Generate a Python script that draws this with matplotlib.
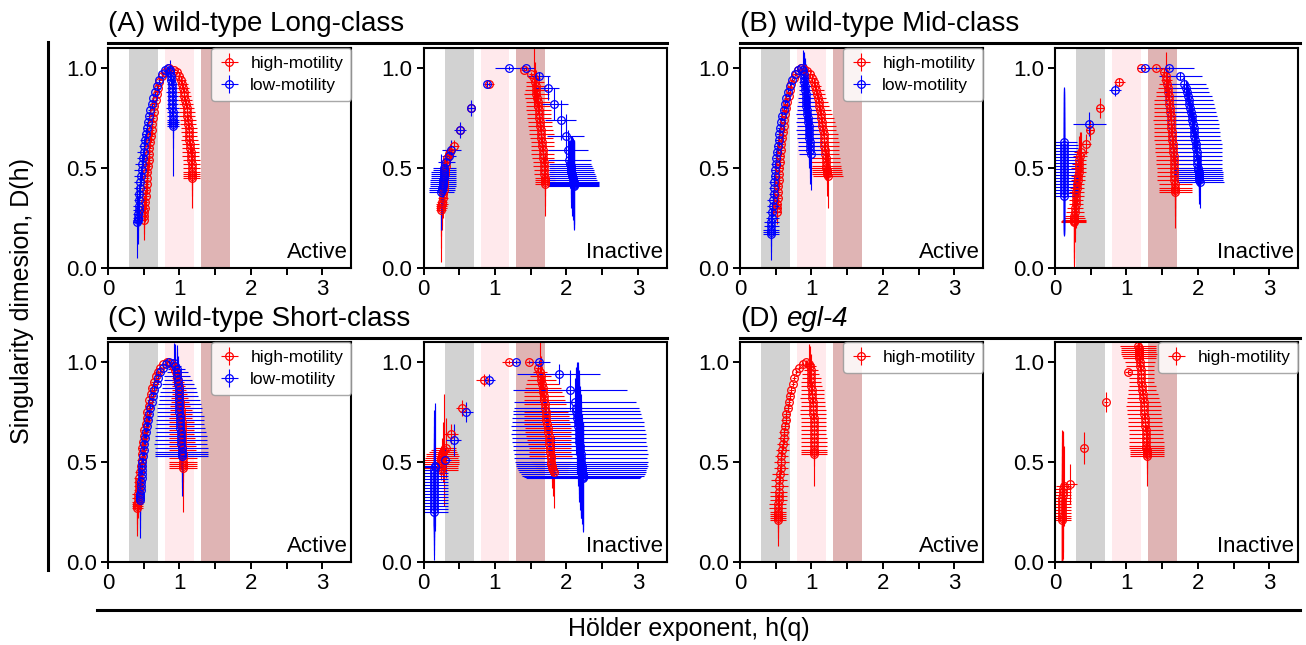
import numpy as np
import matplotlib.pyplot as plt
from matplotlib.lines import Line2D
from matplotlib.ticker import FixedLocator

plt.rcParams['font.family'] = ['Liberation Sans', 'DejaVu Sans']

# each row: h, D(h), error in h, error in D

# (A) wild-type Long-class, active
a_act_hi = [
    (0.50, 0.24, 0.03, 0.10), (0.51, 0.26, 0.03, 0.09), (0.51, 0.28, 0.03, 0.08), (0.52, 0.30, 0.04, 0.07),
    (0.52, 0.33, 0.04, 0.06), (0.53, 0.36, 0.04, 0.06), (0.53, 0.39, 0.04, 0.05), (0.54, 0.42, 0.04, 0.05),
    (0.54, 0.45, 0.04, 0.05), (0.55, 0.48, 0.04, 0.04), (0.56, 0.51, 0.04, 0.04), (0.57, 0.54, 0.04, 0.04),
    (0.57, 0.57, 0.04, 0.04), (0.58, 0.60, 0.04, 0.03), (0.59, 0.63, 0.04, 0.03), (0.60, 0.66, 0.04, 0.03),
    (0.61, 0.69, 0.03, 0.03), (0.62, 0.72, 0.03, 0.03), (0.63, 0.75, 0.03, 0.02), (0.64, 0.78, 0.03, 0.02),
    (0.65, 0.81, 0.03, 0.02), (0.67, 0.84, 0.03, 0.02), (0.68, 0.87, 0.03, 0.02), (0.70, 0.90, 0.03, 0.02),
    (0.72, 0.93, 0.02, 0.01), (0.76, 0.96, 0.02, 0.01), (0.80, 0.98, 0.02, 0.01), (0.86, 1.00, 0.02, 0.01),
    (0.93, 0.99, 0.04, 0.01), (0.96, 0.98, 0.05, 0.01), (0.99, 0.96, 0.06, 0.02), (1.02, 0.94, 0.07, 0.02),
    (1.04, 0.92, 0.08, 0.02), (1.05, 0.90, 0.08, 0.02), (1.06, 0.88, 0.09, 0.02), (1.07, 0.86, 0.09, 0.02),
    (1.08, 0.84, 0.10, 0.02), (1.09, 0.82, 0.10, 0.02), (1.10, 0.80, 0.10, 0.02), (1.11, 0.78, 0.11, 0.02),
    (1.11, 0.76, 0.11, 0.03), (1.12, 0.74, 0.11, 0.03), (1.12, 0.72, 0.11, 0.03), (1.13, 0.70, 0.11, 0.03),
    (1.13, 0.68, 0.11, 0.03), (1.14, 0.66, 0.11, 0.03), (1.14, 0.64, 0.12, 0.03), (1.15, 0.62, 0.12, 0.03),
    (1.15, 0.60, 0.12, 0.03), (1.16, 0.58, 0.12, 0.04), (1.16, 0.56, 0.12, 0.04), (1.165, 0.54, 0.12, 0.04),
    (1.17, 0.52, 0.12, 0.05), (1.17, 0.50, 0.12, 0.05), (1.17, 0.48, 0.12, 0.06), (1.17, 0.47, 0.12, 0.08),
    (1.17, 0.46, 0.12, 0.10), (1.17, 0.45, 0.12, 0.15),
]
a_act_lo = [
    (0.41, 0.23, 0.06, 0.18), (0.42, 0.24, 0.07, 0.12), (0.42, 0.25, 0.07, 0.10), (0.42, 0.27, 0.07, 0.08),
    (0.43, 0.29, 0.08, 0.07), (0.43, 0.31, 0.08, 0.06), (0.44, 0.34, 0.08, 0.06), (0.44, 0.37, 0.08, 0.05),
    (0.45, 0.40, 0.09, 0.05), (0.45, 0.43, 0.09, 0.05), (0.46, 0.46, 0.10, 0.05), (0.47, 0.49, 0.10, 0.05),
    (0.48, 0.52, 0.10, 0.05), (0.49, 0.55, 0.09, 0.04), (0.50, 0.58, 0.09, 0.04), (0.51, 0.61, 0.08, 0.04),
    (0.52, 0.64, 0.07, 0.03), (0.53, 0.67, 0.06, 0.03), (0.54, 0.70, 0.05, 0.03), (0.56, 0.73, 0.04, 0.02),
    (0.57, 0.76, 0.04, 0.02), (0.59, 0.79, 0.03, 0.02), (0.61, 0.82, 0.03, 0.02), (0.63, 0.85, 0.02, 0.02),
    (0.66, 0.88, 0.02, 0.02), (0.69, 0.91, 0.02, 0.01), (0.72, 0.94, 0.02, 0.01), (0.76, 0.97, 0.02, 0.01),
    (0.80, 0.99, 0.02, 0.01), (0.84, 1.00, 0.02, 0.01),
    (0.87, 0.99, 0.04, 0.05), (0.87, 0.98, 0.05, 0.04), (0.88, 0.96, 0.06, 0.03), (0.88, 0.94, 0.06, 0.03),
    (0.89, 0.92, 0.07, 0.03), (0.89, 0.90, 0.07, 0.03), (0.89, 0.88, 0.08, 0.03), (0.90, 0.86, 0.08, 0.03),
    (0.90, 0.84, 0.08, 0.04), (0.90, 0.82, 0.08, 0.04), (0.90, 0.80, 0.09, 0.04), (0.91, 0.78, 0.09, 0.04),
    (0.91, 0.76, 0.09, 0.05), (0.91, 0.74, 0.09, 0.06), (0.91, 0.73, 0.09, 0.08), (0.91, 0.72, 0.09, 0.12),
    (0.91, 0.71, 0.09, 0.25),
]

# (A) wild-type Long-class, inactive
a_ina_hi = [
    (0.24, 0.29, 0.07, 0.26), (0.25, 0.30, 0.08, 0.20), (0.25, 0.31, 0.08, 0.15), (0.26, 0.32, 0.08, 0.13),
    (0.26, 0.33, 0.07, 0.12), (0.27, 0.35, 0.07, 0.10), (0.27, 0.37, 0.06, 0.09), (0.28, 0.39, 0.06, 0.08),
    (0.28, 0.41, 0.05, 0.08), (0.29, 0.43, 0.05, 0.07), (0.29, 0.45, 0.05, 0.07), (0.30, 0.47, 0.04, 0.06),
    (0.30, 0.49, 0.04, 0.06), (0.31, 0.51, 0.04, 0.05), (0.32, 0.53, 0.04, 0.05), (0.33, 0.55, 0.04, 0.04),
    (0.35, 0.57, 0.05, 0.04), (0.37, 0.58, 0.05, 0.04), (0.43, 0.61, 0.06, 0.03), (0.51, 0.69, 0.06, 0.03),
    (0.665, 0.80, 0.05, 0.02), (0.91, 0.92, 0.07, 0.01), (1.41, 0.99, 0.04, 0.01), (1.51, 0.97, 0.04, 0.01),
    (1.55, 0.95, 0.08, 0.15), (1.56, 0.93, 0.12, 0.10), (1.57, 0.91, 0.14, 0.08), (1.58, 0.89, 0.16, 0.06),
    (1.58, 0.87, 0.17, 0.05), (1.59, 0.85, 0.17, 0.05), (1.60, 0.83, 0.17, 0.04), (1.60, 0.81, 0.17, 0.04),
    (1.61, 0.79, 0.17, 0.04), (1.62, 0.77, 0.17, 0.03), (1.62, 0.75, 0.17, 0.03), (1.63, 0.73, 0.17, 0.03),
    (1.63, 0.71, 0.17, 0.03), (1.64, 0.69, 0.17, 0.03), (1.65, 0.67, 0.17, 0.03), (1.65, 0.65, 0.16, 0.03),
    (1.66, 0.63, 0.16, 0.03), (1.66, 0.61, 0.16, 0.03), (1.67, 0.59, 0.16, 0.03), (1.67, 0.57, 0.16, 0.03),
    (1.67, 0.55, 0.15, 0.03), (1.68, 0.53, 0.15, 0.03), (1.68, 0.51, 0.15, 0.04), (1.69, 0.49, 0.15, 0.04),
    (1.69, 0.47, 0.14, 0.05), (1.70, 0.45, 0.14, 0.06), (1.70, 0.44, 0.14, 0.08), (1.70, 0.43, 0.14, 0.12),
    (1.70, 0.42, 0.14, 0.16),
]
a_ina_lo = [
    (0.25, 0.38, 0.18, 0.19), (0.26, 0.39, 0.18, 0.12), (0.26, 0.40, 0.18, 0.10), (0.27, 0.41, 0.18, 0.09),
    (0.27, 0.42, 0.18, 0.08), (0.27, 0.43, 0.18, 0.07), (0.27, 0.44, 0.18, 0.06), (0.28, 0.45, 0.18, 0.05),
    (0.28, 0.46, 0.18, 0.05), (0.28, 0.47, 0.17, 0.05), (0.28, 0.48, 0.17, 0.05), (0.29, 0.49, 0.16, 0.04),
    (0.29, 0.50, 0.16, 0.04), (0.32, 0.53, 0.12, 0.03), (0.36, 0.56, 0.10, 0.04), (0.39, 0.59, 0.13, 0.05),
    (0.51, 0.69, 0.08, 0.04), (0.665, 0.80, 0.06, 0.04), (0.89, 0.92, 0.04, 0.02), (1.19, 1.00, 0.19, 0.01),
    (1.44, 1.00, 0.10, 0.01), (1.61, 0.96, 0.16, 0.02), (1.74, 0.90, 0.16, 0.06), (1.83, 0.82, 0.19, 0.08),
    (1.92, 0.74, 0.22, 0.10), (1.99, 0.66, 0.26, 0.11), (2.02, 0.59, 0.28, 0.10), (2.04, 0.54, 0.30, 0.10),
    (2.05, 0.52, 0.30, 0.12), (2.06, 0.51, 0.30, 0.14), (2.06, 0.50, 0.31, 0.15), (2.07, 0.49, 0.31, 0.16),
    (2.07, 0.48, 0.32, 0.18), (2.08, 0.47, 0.32, 0.19), (2.08, 0.46, 0.33, 0.20), (2.09, 0.45, 0.33, 0.20),
    (2.09, 0.44, 0.34, 0.20), (2.10, 0.43, 0.35, 0.21), (2.10, 0.425, 0.35, 0.21), (2.10, 0.42, 0.36, 0.22),
    (2.10, 0.415, 0.36, 0.22), (2.10, 0.41, 0.36, 0.22),
]

# (B) wild-type Mid-class, active
b_act_hi = [
    (0.52, 0.28, 0.05, 0.06), (0.52, 0.30, 0.05, 0.05), (0.52, 0.32, 0.05, 0.05), (0.53, 0.35, 0.05, 0.05),
    (0.53, 0.38, 0.05, 0.04), (0.53, 0.41, 0.05, 0.04), (0.54, 0.44, 0.05, 0.04), (0.54, 0.47, 0.05, 0.04),
    (0.55, 0.50, 0.05, 0.04), (0.56, 0.53, 0.05, 0.03), (0.56, 0.56, 0.05, 0.03), (0.57, 0.59, 0.04, 0.03),
    (0.58, 0.62, 0.04, 0.03), (0.59, 0.65, 0.04, 0.03), (0.60, 0.68, 0.04, 0.03), (0.61, 0.71, 0.04, 0.03),
    (0.62, 0.74, 0.03, 0.02), (0.63, 0.77, 0.03, 0.02), (0.65, 0.80, 0.03, 0.02), (0.66, 0.83, 0.03, 0.02),
    (0.68, 0.86, 0.03, 0.02), (0.70, 0.89, 0.03, 0.02), (0.72, 0.92, 0.02, 0.02), (0.75, 0.95, 0.02, 0.01),
    (0.78, 0.97, 0.02, 0.01), (0.81, 0.99, 0.02, 0.01), (0.85, 1.00, 0.02, 0.01),
    (0.90, 0.995, 0.03, 0.01), (0.94, 0.985, 0.05, 0.01), (0.98, 0.97, 0.06, 0.02), (1.01, 0.95, 0.07, 0.02),
    (1.03, 0.93, 0.08, 0.02), (1.05, 0.91, 0.09, 0.02), (1.07, 0.89, 0.10, 0.02), (1.08, 0.87, 0.11, 0.02),
    (1.09, 0.85, 0.12, 0.03), (1.10, 0.83, 0.13, 0.03), (1.11, 0.81, 0.14, 0.03), (1.12, 0.79, 0.15, 0.03),
    (1.13, 0.77, 0.16, 0.03), (1.14, 0.75, 0.17, 0.03), (1.15, 0.73, 0.18, 0.03), (1.15, 0.71, 0.19, 0.03),
    (1.16, 0.69, 0.19, 0.03), (1.17, 0.67, 0.20, 0.03), (1.17, 0.65, 0.20, 0.03), (1.18, 0.63, 0.20, 0.03),
    (1.18, 0.61, 0.20, 0.03), (1.19, 0.59, 0.20, 0.04), (1.19, 0.57, 0.20, 0.04), (1.20, 0.55, 0.20, 0.04),
    (1.20, 0.53, 0.20, 0.04), (1.21, 0.51, 0.20, 0.05), (1.21, 0.50, 0.21, 0.06), (1.22, 0.49, 0.21, 0.07),
    (1.22, 0.48, 0.21, 0.09), (1.22, 0.47, 0.21, 0.11), (1.23, 0.46, 0.21, 0.16),
]
b_act_lo = [
    (0.43, 0.17, 0.11, 0.13), (0.43, 0.18, 0.11, 0.10), (0.43, 0.19, 0.11, 0.08), (0.44, 0.21, 0.10, 0.07),
    (0.44, 0.23, 0.10, 0.06), (0.45, 0.25, 0.09, 0.05), (0.45, 0.28, 0.09, 0.05), (0.46, 0.31, 0.08, 0.05),
    (0.46, 0.34, 0.08, 0.05), (0.47, 0.37, 0.07, 0.05), (0.47, 0.40, 0.07, 0.04), (0.48, 0.43, 0.07, 0.04),
    (0.49, 0.46, 0.06, 0.04), (0.49, 0.49, 0.06, 0.04), (0.50, 0.52, 0.06, 0.04), (0.51, 0.55, 0.05, 0.04),
    (0.52, 0.58, 0.05, 0.03), (0.53, 0.61, 0.05, 0.03), (0.54, 0.64, 0.05, 0.03), (0.55, 0.67, 0.04, 0.03),
    (0.56, 0.70, 0.04, 0.03), (0.58, 0.73, 0.04, 0.03), (0.59, 0.76, 0.04, 0.02), (0.61, 0.79, 0.03, 0.02),
    (0.63, 0.82, 0.03, 0.02), (0.65, 0.85, 0.03, 0.02), (0.67, 0.88, 0.02, 0.02), (0.70, 0.91, 0.02, 0.02),
    (0.73, 0.94, 0.02, 0.01), (0.77, 0.97, 0.02, 0.01), (0.81, 0.99, 0.02, 0.01), (0.86, 1.00, 0.02, 0.01),
    (0.88, 0.99, 0.04, 0.10), (0.89, 0.97, 0.05, 0.11), (0.90, 0.95, 0.06, 0.12), (0.90, 0.93, 0.07, 0.13),
    (0.91, 0.91, 0.08, 0.14), (0.91, 0.89, 0.09, 0.15), (0.92, 0.87, 0.10, 0.15), (0.92, 0.85, 0.11, 0.15),
    (0.93, 0.83, 0.12, 0.15), (0.93, 0.81, 0.13, 0.15), (0.94, 0.79, 0.14, 0.15), (0.94, 0.77, 0.15, 0.15),
    (0.95, 0.75, 0.15, 0.15), (0.95, 0.73, 0.16, 0.15), (0.96, 0.71, 0.16, 0.15), (0.96, 0.69, 0.17, 0.15),
    (0.97, 0.67, 0.17, 0.15), (0.97, 0.65, 0.17, 0.15), (0.98, 0.63, 0.17, 0.15), (0.98, 0.61, 0.17, 0.16),
    (0.98, 0.59, 0.17, 0.17), (0.99, 0.57, 0.17, 0.18),
]

# (B) wild-type Mid-class, inactive
b_ina_hi = [
    (0.26, 0.23, 0.18, 0.23), (0.26, 0.235, 0.18, 0.22), (0.27, 0.24, 0.17, 0.21), (0.27, 0.25, 0.15, 0.20),
    (0.27, 0.26, 0.13, 0.18), (0.28, 0.28, 0.12, 0.15), (0.28, 0.30, 0.11, 0.13), (0.29, 0.32, 0.10, 0.12),
    (0.29, 0.34, 0.10, 0.11), (0.30, 0.36, 0.10, 0.10), (0.30, 0.38, 0.10, 0.09), (0.31, 0.40, 0.10, 0.09),
    (0.31, 0.42, 0.10, 0.08), (0.32, 0.44, 0.10, 0.08), (0.32, 0.46, 0.10, 0.09), (0.33, 0.48, 0.10, 0.10),
    (0.33, 0.50, 0.10, 0.10), (0.34, 0.52, 0.10, 0.11), (0.34, 0.54, 0.10, 0.12), (0.35, 0.56, 0.10, 0.12),
    (0.36, 0.58, 0.10, 0.10), (0.44, 0.62, 0.06, 0.05), (0.49, 0.69, 0.06, 0.05), (0.63, 0.80, 0.06, 0.05),
    (0.90, 0.93, 0.08, 0.02), (1.20, 1.00, 0.05, 0.01), (1.41, 1.00, 0.03, 0.01), (1.52, 0.98, 0.04, 0.02),
    (1.56, 0.96, 0.06, 0.12), (1.56, 0.94, 0.08, 0.08), (1.57, 0.92, 0.12, 0.06), (1.58, 0.90, 0.14, 0.04),
    (1.58, 0.88, 0.16, 0.04), (1.59, 0.86, 0.18, 0.04), (1.59, 0.84, 0.20, 0.04), (1.60, 0.82, 0.21, 0.04),
    (1.61, 0.80, 0.22, 0.04), (1.61, 0.78, 0.23, 0.04), (1.62, 0.76, 0.24, 0.04), (1.62, 0.74, 0.25, 0.04),
    (1.63, 0.72, 0.25, 0.04), (1.63, 0.70, 0.25, 0.04), (1.64, 0.68, 0.25, 0.04), (1.64, 0.66, 0.25, 0.04),
    (1.64, 0.64, 0.25, 0.04), (1.65, 0.62, 0.25, 0.04), (1.65, 0.60, 0.25, 0.04), (1.65, 0.58, 0.25, 0.05),
    (1.66, 0.56, 0.25, 0.05), (1.66, 0.54, 0.25, 0.05), (1.66, 0.52, 0.24, 0.05), (1.67, 0.50, 0.24, 0.05),
    (1.67, 0.48, 0.24, 0.06), (1.67, 0.46, 0.24, 0.06), (1.67, 0.44, 0.24, 0.07), (1.68, 0.42, 0.23, 0.08),
    (1.68, 0.40, 0.23, 0.10), (1.68, 0.39, 0.23, 0.13), (1.68, 0.38, 0.23, 0.18),
]
b_ina_lo = [
    (0.12, 0.36, 0.20, 0.20), (0.12, 0.375, 0.20, 0.21), (0.12, 0.39, 0.20, 0.22), (0.12, 0.405, 0.20, 0.24),
    (0.12, 0.42, 0.20, 0.25), (0.12, 0.435, 0.20, 0.27), (0.12, 0.45, 0.20, 0.28), (0.12, 0.465, 0.20, 0.29),
    (0.12, 0.48, 0.20, 0.30), (0.12, 0.495, 0.20, 0.31), (0.12, 0.51, 0.20, 0.32), (0.12, 0.525, 0.20, 0.33),
    (0.12, 0.54, 0.20, 0.33), (0.12, 0.555, 0.20, 0.33), (0.12, 0.57, 0.20, 0.33), (0.12, 0.585, 0.20, 0.32),
    (0.12, 0.60, 0.20, 0.30), (0.13, 0.615, 0.19, 0.28), (0.13, 0.63, 0.18, 0.25),
    (0.48, 0.72, 0.23, 0.06), (0.84, 0.89, 0.08, 0.03), (1.26, 1.00, 0.10, 0.01), (1.59, 1.00, 0.35, 0.01),
    (1.75, 0.96, 0.30, 0.02),
    (1.81, 0.92, 0.30, 0.04), (1.83, 0.90, 0.31, 0.04), (1.84, 0.88, 0.32, 0.05), (1.86, 0.86, 0.33, 0.05),
    (1.87, 0.84, 0.34, 0.05), (1.88, 0.82, 0.34, 0.05), (1.89, 0.80, 0.35, 0.05), (1.90, 0.78, 0.35, 0.05),
    (1.91, 0.76, 0.36, 0.05), (1.92, 0.74, 0.36, 0.06), (1.93, 0.72, 0.36, 0.06), (1.94, 0.70, 0.36, 0.06),
    (1.95, 0.68, 0.36, 0.06), (1.95, 0.66, 0.36, 0.06), (1.96, 0.64, 0.36, 0.06), (1.97, 0.62, 0.36, 0.06),
    (1.97, 0.60, 0.36, 0.06), (1.98, 0.58, 0.36, 0.06), (1.98, 0.56, 0.36, 0.06), (1.99, 0.54, 0.35, 0.07),
    (1.99, 0.52, 0.35, 0.07), (2.00, 0.50, 0.34, 0.07), (2.00, 0.49, 0.34, 0.08), (2.01, 0.48, 0.34, 0.08),
    (2.01, 0.47, 0.34, 0.09), (2.02, 0.46, 0.33, 0.10), (2.02, 0.45, 0.33, 0.11), (2.02, 0.44, 0.33, 0.12),
    (2.03, 0.43, 0.33, 0.13),
]

# (C) wild-type Short-class, active
c_act_hi = [
    (0.41, 0.27, 0.08, 0.14), (0.41, 0.28, 0.08, 0.12), (0.41, 0.29, 0.08, 0.10), (0.42, 0.30, 0.08, 0.08),
    (0.42, 0.32, 0.08, 0.07), (0.42, 0.34, 0.08, 0.06), (0.43, 0.36, 0.07, 0.05), (0.43, 0.38, 0.07, 0.05),
    (0.44, 0.40, 0.07, 0.05), (0.44, 0.42, 0.07, 0.05), (0.45, 0.45, 0.07, 0.04), (0.46, 0.48, 0.06, 0.04),
    (0.47, 0.51, 0.06, 0.04), (0.48, 0.54, 0.06, 0.04), (0.48, 0.57, 0.06, 0.04), (0.49, 0.60, 0.06, 0.03),
    (0.50, 0.63, 0.05, 0.03), (0.51, 0.66, 0.05, 0.03), (0.53, 0.69, 0.05, 0.03), (0.54, 0.72, 0.05, 0.03),
    (0.55, 0.75, 0.05, 0.03), (0.57, 0.78, 0.05, 0.02), (0.58, 0.81, 0.04, 0.02), (0.60, 0.84, 0.04, 0.02),
    (0.62, 0.87, 0.04, 0.02), (0.64, 0.90, 0.04, 0.02), (0.67, 0.93, 0.03, 0.02), (0.70, 0.95, 0.03, 0.01),
    (0.73, 0.97, 0.03, 0.01), (0.77, 0.99, 0.02, 0.01), (0.82, 1.00, 0.02, 0.01),
    (0.88, 0.995, 0.03, 0.01), (0.91, 0.98, 0.04, 0.01), (0.94, 0.96, 0.05, 0.02), (0.96, 0.94, 0.06, 0.02),
    (0.97, 0.92, 0.07, 0.02), (0.98, 0.90, 0.08, 0.02), (0.99, 0.88, 0.09, 0.02), (0.99, 0.86, 0.10, 0.02),
    (1.00, 0.84, 0.11, 0.02), (1.00, 0.82, 0.12, 0.03), (1.01, 0.80, 0.13, 0.03), (1.01, 0.78, 0.14, 0.03),
    (1.02, 0.76, 0.15, 0.03), (1.02, 0.74, 0.15, 0.03), (1.02, 0.72, 0.16, 0.03), (1.03, 0.70, 0.17, 0.03),
    (1.03, 0.68, 0.17, 0.03), (1.03, 0.66, 0.18, 0.03), (1.03, 0.64, 0.18, 0.03), (1.04, 0.62, 0.18, 0.03),
    (1.04, 0.60, 0.18, 0.03), (1.04, 0.58, 0.19, 0.04), (1.04, 0.56, 0.19, 0.04), (1.05, 0.54, 0.19, 0.04),
    (1.05, 0.52, 0.19, 0.05), (1.05, 0.50, 0.20, 0.05), (1.05, 0.49, 0.20, 0.06), (1.05, 0.48, 0.20, 0.08),
    (1.05, 0.47, 0.20, 0.22),
]
c_act_lo = [
    (0.45, 0.31, 0.03, 0.19), (0.45, 0.32, 0.03, 0.15), (0.45, 0.33, 0.03, 0.12), (0.45, 0.34, 0.03, 0.10),
    (0.46, 0.36, 0.03, 0.08), (0.46, 0.38, 0.03, 0.07), (0.46, 0.40, 0.03, 0.06), (0.47, 0.42, 0.03, 0.05),
    (0.47, 0.44, 0.03, 0.05), (0.47, 0.46, 0.03, 0.05), (0.48, 0.48, 0.03, 0.05), (0.48, 0.50, 0.03, 0.04),
    (0.49, 0.53, 0.03, 0.04), (0.50, 0.56, 0.04, 0.04), (0.51, 0.59, 0.04, 0.04), (0.52, 0.62, 0.04, 0.04),
    (0.53, 0.65, 0.04, 0.04), (0.54, 0.68, 0.04, 0.03), (0.56, 0.71, 0.04, 0.03), (0.57, 0.74, 0.04, 0.03),
    (0.59, 0.77, 0.04, 0.03), (0.61, 0.80, 0.04, 0.03), (0.63, 0.83, 0.04, 0.02), (0.65, 0.86, 0.03, 0.02),
    (0.68, 0.89, 0.03, 0.02), (0.70, 0.92, 0.03, 0.02), (0.73, 0.95, 0.03, 0.02), (0.77, 0.97, 0.02, 0.01),
    (0.81, 0.99, 0.02, 0.01), (0.85, 1.00, 0.02, 0.01),
    (0.92, 0.995, 0.05, 0.10), (0.94, 0.98, 0.08, 0.11), (0.96, 0.965, 0.12, 0.12), (0.97, 0.95, 0.15, 0.12),
    (0.97, 0.93, 0.18, 0.12), (0.98, 0.91, 0.20, 0.12), (0.98, 0.89, 0.22, 0.12), (0.99, 0.87, 0.24, 0.12),
    (0.99, 0.85, 0.26, 0.12), (0.99, 0.83, 0.27, 0.12), (1.00, 0.81, 0.29, 0.12), (1.00, 0.79, 0.30, 0.12),
    (1.00, 0.77, 0.31, 0.12), (1.00, 0.75, 0.32, 0.12), (1.01, 0.73, 0.33, 0.12), (1.01, 0.71, 0.34, 0.12),
    (1.01, 0.69, 0.34, 0.12), (1.01, 0.67, 0.35, 0.12), (1.02, 0.65, 0.35, 0.12), (1.02, 0.63, 0.36, 0.12),
    (1.02, 0.61, 0.36, 0.12), (1.02, 0.59, 0.37, 0.12), (1.03, 0.57, 0.37, 0.13), (1.03, 0.55, 0.37, 0.15),
    (1.03, 0.54, 0.37, 0.17), (1.03, 0.53, 0.37, 0.20),
]

# (C) wild-type Short-class, inactive
c_ina_hi = [
    (0.24, 0.46, 0.24, 0.05), (0.24, 0.47, 0.24, 0.05), (0.24, 0.48, 0.24, 0.05), (0.25, 0.49, 0.24, 0.05),
    (0.25, 0.50, 0.24, 0.05), (0.25, 0.51, 0.24, 0.05), (0.25, 0.52, 0.23, 0.06), (0.26, 0.53, 0.23, 0.06),
    (0.26, 0.54, 0.22, 0.08), (0.27, 0.55, 0.20, 0.15), (0.28, 0.56, 0.18, 0.28), (0.31, 0.57, 0.15, 0.15),
    (0.38, 0.64, 0.10, 0.05), (0.54, 0.77, 0.08, 0.04), (0.84, 0.91, 0.10, 0.03), (1.20, 1.00, 0.10, 0.01),
    (1.47, 1.00, 0.04, 0.01), (1.60, 0.97, 0.04, 0.02),
    (1.63, 0.95, 0.10, 0.15), (1.64, 0.93, 0.15, 0.10), (1.65, 0.91, 0.20, 0.08), (1.66, 0.89, 0.23, 0.06),
    (1.67, 0.87, 0.25, 0.06), (1.67, 0.85, 0.27, 0.05), (1.68, 0.83, 0.28, 0.05), (1.69, 0.81, 0.29, 0.05),
    (1.70, 0.79, 0.30, 0.05), (1.70, 0.77, 0.30, 0.05), (1.71, 0.75, 0.31, 0.05), (1.72, 0.73, 0.32, 0.05),
    (1.72, 0.71, 0.32, 0.05), (1.73, 0.69, 0.32, 0.05), (1.74, 0.67, 0.32, 0.05), (1.74, 0.65, 0.32, 0.05),
    (1.75, 0.63, 0.32, 0.05), (1.76, 0.61, 0.31, 0.05), (1.76, 0.59, 0.30, 0.05), (1.77, 0.57, 0.30, 0.05),
    (1.77, 0.55, 0.30, 0.05), (1.78, 0.53, 0.30, 0.05), (1.78, 0.52, 0.30, 0.06), (1.79, 0.50, 0.28, 0.06),
    (1.79, 0.49, 0.26, 0.07), (1.80, 0.48, 0.24, 0.08), (1.80, 0.47, 0.22, 0.10), (1.81, 0.46, 0.21, 0.13),
    (1.82, 0.45, 0.20, 0.18),
]
c_ina_lo = [
    (0.14, 0.25, 0.20, 0.24), (0.14, 0.265, 0.20, 0.23), (0.14, 0.28, 0.20, 0.22), (0.14, 0.295, 0.20, 0.21),
    (0.14, 0.31, 0.20, 0.20), (0.14, 0.325, 0.20, 0.20), (0.14, 0.34, 0.20, 0.20), (0.14, 0.355, 0.20, 0.20),
    (0.14, 0.37, 0.20, 0.20), (0.14, 0.385, 0.20, 0.21), (0.14, 0.40, 0.20, 0.22), (0.14, 0.415, 0.20, 0.23),
    (0.14, 0.43, 0.20, 0.25), (0.15, 0.445, 0.19, 0.28), (0.15, 0.46, 0.18, 0.30), (0.16, 0.475, 0.16, 0.32),
    (0.16, 0.48, 0.15, 0.30),
    (0.30, 0.51, 0.08, 0.06), (0.42, 0.61, 0.10, 0.08), (0.60, 0.75, 0.09, 0.05), (0.92, 0.91, 0.08, 0.03),
    (1.30, 1.00, 0.05, 0.01), (1.62, 1.00, 0.15, 0.01), (1.89, 0.94, 0.58, 0.05), (2.05, 0.86, 0.80, 0.10),
    (2.12, 0.80, 0.85, 0.12),
    (2.14, 0.77, 0.88, 0.20), (2.14, 0.755, 0.89, 0.22), (2.15, 0.74, 0.90, 0.25), (2.15, 0.72, 0.91, 0.28),
    (2.16, 0.70, 0.92, 0.30), (2.16, 0.68, 0.93, 0.30), (2.17, 0.66, 0.93, 0.30), (2.17, 0.64, 0.94, 0.30),
    (2.18, 0.62, 0.94, 0.30), (2.18, 0.60, 0.94, 0.30), (2.19, 0.58, 0.94, 0.30), (2.19, 0.56, 0.94, 0.30),
    (2.20, 0.54, 0.94, 0.30), (2.20, 0.52, 0.93, 0.29), (2.21, 0.50, 0.93, 0.28), (2.21, 0.49, 0.92, 0.27),
    (2.22, 0.48, 0.92, 0.26), (2.22, 0.47, 0.91, 0.25), (2.22, 0.46, 0.90, 0.25), (2.22, 0.45, 0.89, 0.26),
    (2.23, 0.44, 0.87, 0.26), (2.23, 0.43, 0.85, 0.27), (2.23, 0.425, 0.82, 0.27), (2.23, 0.42, 0.80, 0.27),
]

# (D) egl-4
d_act_hi = [
    (0.53, 0.21, 0.11, 0.13), (0.53, 0.22, 0.11, 0.10), (0.53, 0.23, 0.11, 0.08), (0.53, 0.24, 0.11, 0.07),
    (0.53, 0.25, 0.11, 0.06), (0.53, 0.27, 0.12, 0.05), (0.53, 0.29, 0.12, 0.05), (0.54, 0.31, 0.12, 0.05),
    (0.54, 0.33, 0.12, 0.04), (0.54, 0.35, 0.12, 0.04), (0.55, 0.38, 0.12, 0.04), (0.55, 0.41, 0.11, 0.04),
    (0.56, 0.44, 0.11, 0.04), (0.57, 0.47, 0.10, 0.03), (0.58, 0.50, 0.10, 0.03), (0.58, 0.53, 0.09, 0.03),
    (0.59, 0.56, 0.09, 0.03), (0.60, 0.59, 0.08, 0.03), (0.61, 0.62, 0.08, 0.03), (0.62, 0.65, 0.07, 0.02),
    (0.63, 0.68, 0.06, 0.02), (0.64, 0.71, 0.06, 0.02), (0.65, 0.74, 0.05, 0.02), (0.67, 0.77, 0.05, 0.02),
    (0.68, 0.80, 0.04, 0.02), (0.70, 0.83, 0.04, 0.02), (0.72, 0.86, 0.03, 0.02), (0.74, 0.89, 0.03, 0.01),
    (0.76, 0.92, 0.03, 0.01), (0.79, 0.95, 0.02, 0.01), (0.83, 0.97, 0.02, 0.01), (0.88, 0.99, 0.02, 0.01),
    (0.93, 1.00, 0.02, 0.01),
    (0.97, 0.99, 0.06, 0.10), (0.98, 0.98, 0.08, 0.10), (0.99, 0.96, 0.10, 0.08), (0.99, 0.94, 0.12, 0.06),
    (1.00, 0.92, 0.13, 0.05), (1.00, 0.90, 0.14, 0.04), (1.00, 0.88, 0.15, 0.04), (1.01, 0.86, 0.16, 0.04),
    (1.01, 0.84, 0.16, 0.03), (1.01, 0.82, 0.17, 0.03), (1.02, 0.80, 0.17, 0.03), (1.02, 0.78, 0.17, 0.03),
    (1.02, 0.76, 0.18, 0.03), (1.02, 0.74, 0.18, 0.03), (1.03, 0.72, 0.18, 0.03), (1.03, 0.70, 0.18, 0.03),
    (1.03, 0.68, 0.18, 0.03), (1.03, 0.66, 0.18, 0.03), (1.03, 0.64, 0.18, 0.03), (1.04, 0.62, 0.18, 0.03),
    (1.04, 0.60, 0.18, 0.04), (1.04, 0.58, 0.18, 0.04), (1.04, 0.56, 0.18, 0.05), (1.04, 0.55, 0.18, 0.07),
    (1.04, 0.54, 0.18, 0.16),
]
d_ina_hi = [
    (0.10, 0.21, 0.12, 0.21), (0.10, 0.22, 0.12, 0.22), (0.10, 0.23, 0.12, 0.23), (0.10, 0.245, 0.12, 0.25),
    (0.10, 0.26, 0.12, 0.27), (0.10, 0.275, 0.12, 0.29), (0.10, 0.29, 0.12, 0.31), (0.10, 0.305, 0.12, 0.33),
    (0.10, 0.32, 0.12, 0.34), (0.11, 0.335, 0.12, 0.32), (0.11, 0.35, 0.12, 0.30), (0.11, 0.365, 0.11, 0.25),
    (0.12, 0.38, 0.10, 0.20), (0.21, 0.39, 0.10, 0.10), (0.40, 0.57, 0.03, 0.08), (0.71, 0.80, 0.03, 0.05),
    (1.02, 0.95, 0.04, 0.01),
    (1.16, 1.08, 0.25, 0.05), (1.17, 1.07, 0.25, 0.05), (1.17, 1.06, 0.25, 0.05), (1.17, 1.05, 0.25, 0.05),
    (1.18, 1.04, 0.25, 0.04), (1.18, 1.03, 0.24, 0.04), (1.18, 1.02, 0.23, 0.04), (1.19, 1.00, 0.21, 0.03),
    (1.19, 0.98, 0.19, 0.03), (1.20, 0.96, 0.18, 0.03), (1.20, 0.94, 0.18, 0.03), (1.21, 0.92, 0.18, 0.03),
    (1.21, 0.90, 0.18, 0.03), (1.22, 0.88, 0.19, 0.03), (1.22, 0.86, 0.20, 0.03), (1.23, 0.84, 0.21, 0.03),
    (1.23, 0.82, 0.22, 0.03), (1.24, 0.80, 0.23, 0.03), (1.24, 0.78, 0.24, 0.03), (1.25, 0.76, 0.24, 0.03),
    (1.25, 0.74, 0.24, 0.03), (1.26, 0.72, 0.24, 0.03), (1.26, 0.70, 0.24, 0.03), (1.26, 0.68, 0.24, 0.03),
    (1.27, 0.66, 0.24, 0.03), (1.27, 0.64, 0.24, 0.03), (1.27, 0.62, 0.24, 0.03), (1.28, 0.60, 0.24, 0.04),
    (1.28, 0.58, 0.24, 0.04), (1.28, 0.57, 0.24, 0.05), (1.29, 0.56, 0.24, 0.06), (1.29, 0.55, 0.24, 0.08),
    (1.29, 0.54, 0.24, 0.10), (1.29, 0.53, 0.24, 0.15),
]

bands = [(0.3, 0.7, 'gray'), (0.8, 1.2, 'pink'), (1.3, 1.7, 'brown')]
HI, LO = 'high-motility', 'low-motility'

# (row, col, state label, show legend, [(data, colour, label), ...])
panels = [
    (0, 0, 'Active', True, [(a_act_hi, 'red', HI), (a_act_lo, 'blue', LO)]),
    (0, 1, 'Inactive', False, [(a_ina_hi, 'red', HI), (a_ina_lo, 'blue', LO)]),
    (0, 2, 'Active', True, [(b_act_hi, 'red', HI), (b_act_lo, 'blue', LO)]),
    (0, 3, 'Inactive', False, [(b_ina_hi, 'red', HI), (b_ina_lo, 'blue', LO)]),
    (1, 0, 'Active', True, [(c_act_hi, 'red', HI), (c_act_lo, 'blue', LO)]),
    (1, 1, 'Inactive', False, [(c_ina_hi, 'red', HI), (c_ina_lo, 'blue', LO)]),
    (1, 2, 'Active', True, [(d_act_hi, 'red', HI)]),
    (1, 3, 'Inactive', True, [(d_ina_hi, 'red', HI)]),
]

W, H = 1306, 645
fig = plt.figure(figsize=(W / 100, H / 100), dpi=100)

lefts = [108, 423.5, 740, 1055]
tops = [48, 342]
aw, ah = 243, 220

for row, col, tag, leg, series in panels:
    ax = fig.add_axes([lefts[col] / W, 1 - (tops[row] + ah) / H, aw / W, ah / H])
    for lo, hi, c in bands:
        ax.axvspan(lo, hi, color=c, alpha=0.35, lw=0, zorder=0)
    for data, c, lab in series:
        h, d, dh, dd = np.array(data).T
        ax.errorbar(h, d, xerr=dh, yerr=dd, fmt='o', ms=5.5, mfc='none', mec=c, mew=0.9,
                    color=c, elinewidth=0.8, capsize=0, label=lab)
    ax.set_xlim(0, 3.4)
    ax.set_ylim(0, 1.1)
    ax.xaxis.set_major_locator(FixedLocator([0, 1, 2, 3]))
    ax.xaxis.set_minor_locator(FixedLocator([0.5, 1.5, 2.5]))
    ax.set_yticks([0, 0.5, 1.0])
    ax.set_yticklabels(['0.0', '0.5', '1.0'])
    ax.tick_params(which='both', direction='out', length=5, width=1.4, labelsize=16, pad=3)
    for s in ax.spines.values():
        s.set_linewidth(1.5)
    ax.text(0.985, 0.045, tag, transform=ax.transAxes, ha='right', va='baseline', fontsize=16)
    if leg:
        ax.legend(loc='upper right', borderaxespad=0, fontsize=12.5, handlelength=1.2,
                  handletextpad=0.6, borderpad=0.45, labelspacing=0.4, framealpha=0.85,
                  edgecolor='0.6', fancybox=True)

# panel titles with rules underneath
fig.text(108 / W, 1 - 31 / H, '(A) wild-type Long-class', fontsize=20, va='baseline')
fig.text(740 / W, 1 - 31 / H, '(B) wild-type Mid-class', fontsize=20, va='baseline')
fig.text(108 / W, 1 - 326 / H, '(C) wild-type Short-class', fontsize=20, va='baseline')
t_d = fig.text(740 / W, 1 - 326 / H, '(D)', fontsize=20, va='baseline')
fig.add_artist(plt.Annotation('egl-4', xy=(1, 0), xycoords=t_d, xytext=(5, 0),
                              textcoords='offset points', fontsize=20, style='italic',
                              va='bottom', ha='left'))

for y in (42.5, 337.5):
    fig.add_artist(Line2D([108 / W, 667 / W], [1 - y / H] * 2, color='black', lw=2.2))
    fig.add_artist(Line2D([740 / W, 1300 / W], [1 - y / H] * 2, color='black', lw=2.2))

# shared axis labels with rules
fig.add_artist(Line2D([48 / W, 48 / W], [1 - 42 / H, 1 - 570 / H], color='black', lw=2.2))
fig.add_artist(Line2D([97 / W, 1300 / W], [1 - 610 / H] * 2, color='black', lw=2.2))
fig.text(22 / W, 1 - 301 / H, 'Singularity dimesion, D(h)', rotation=90, fontsize=18,
         ha='center', va='center')
fig.text(689 / W, 1 - 636 / H, 'Hölder exponent, h(q)', fontsize=18, ha='center', va='baseline')

fig.savefig('out.png', dpi=100)
